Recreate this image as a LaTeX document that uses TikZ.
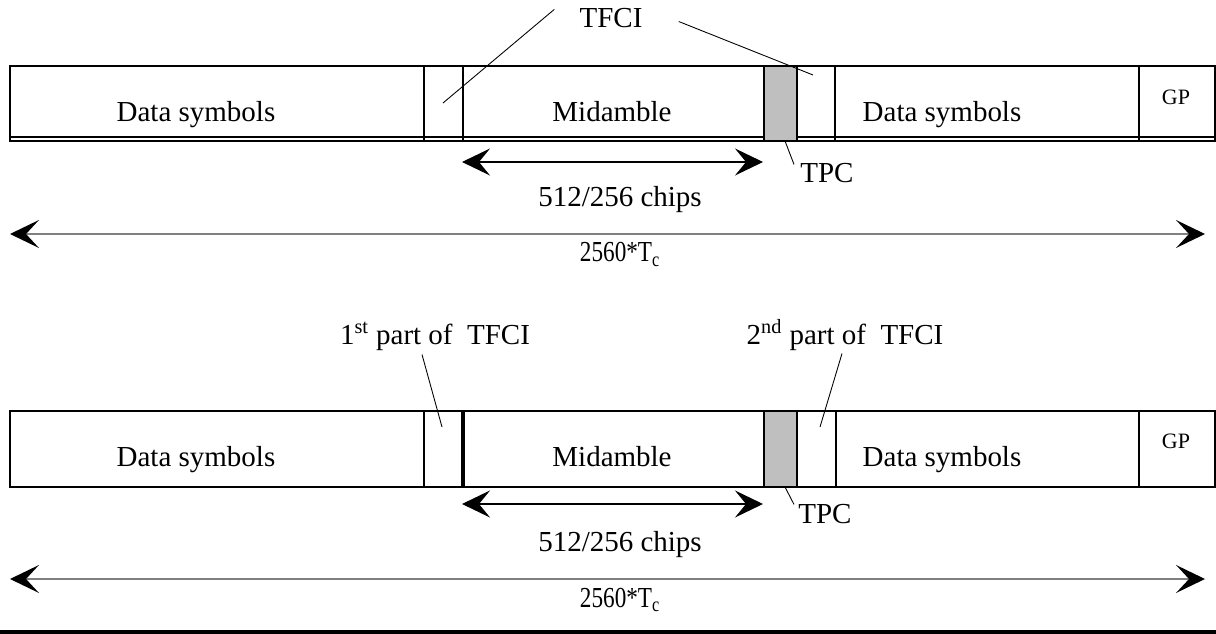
\documentclass[tikz,border=0pt]{standalone}
\usepackage{graphicx}
\usepackage{fontspec}
\setmainfont{Liberation Serif}
\usetikzlibrary{arrows.meta,calc}

\begin{document}
\begin{tikzpicture}[x=0.02cm,y=-0.02cm,
  lbl/.style={font=\fontsize{16.5}{20}\selectfont,inner sep=0pt,anchor=base},
  sml/.style={font=\fontsize{12.5}{15}\selectfont,inner sep=0pt,anchor=base},
  frame/.style={line width=0.6pt},
  lead/.style={line width=0.5pt},
  tpcbox/.style={fill=black!25,line width=1pt},
  span/.style={line width=0.6pt,{Stealth[length=0.56cm,width=0.54cm,inset=0.22cm]}-{Stealth[length=0.56cm,width=0.54cm,inset=0.22cm]}},
  total/.style={gray,line width=0.9pt,{Stealth[length=0.58cm,width=0.56cm,inset=0.26cm,color=black]}-{Stealth[length=0.58cm,width=0.56cm,inset=0.26cm,color=black]}}]
\useasboundingbox (0,0) rectangle (1216,634);

% upper burst
\draw[frame] (10,66) rectangle (1215,141);
\draw[line width=1.4pt] (10,137) -- (1215,137);
\foreach \x in {424,463,835,1139} \draw[frame] (\x,66) -- (\x,141);
\filldraw[tpcbox] (764,66) rectangle (797,141);
\node[lbl] (data1) at (196,122) {Data symbols};
\node[lbl] (mid1) at (612,122) {Midamble};
\node[lbl] (data2) at (942,122) {Data symbols};
\node[sml] (gp1) at (1176,105) {GP};
\node[lbl] (tfci) at (611,28) {TFCI};
\node[lbl,anchor=base west] (tpc1) at (800,183) {TPC};
\node[lbl] (chips1) at (620,207) {512/256 chips};
\node[lbl] (tc1) at (620,262) {\scalebox{0.8}[1]{2560*T\textsubscript{c}}};

\coordinate (tfciA) at (443,103);
\coordinate (tfciB) at (813,75);
\coordinate (tpcA) at (785,141);
\draw[lead] ($(tfci.north west)+(-25,1)$) -- (tfciA);
\draw[lead] ($(tfci.east)+(36,3)$) -- (tfciB);
\draw[lead] ($(tpc1.north west)+(-6,1)$) -- (tpcA);

\coordinate (m1a) at (462,162);
\coordinate (m1b) at (763,162);
\draw[span] (m1a) -- (m1b);
\coordinate (f1a) at (10,234);
\coordinate (f1b) at (1205,234);
\draw[total] (f1a) -- (f1b);

% lower burst
\draw[frame] (10,411) rectangle (1215,487);
\foreach \x in {424,462,464,836,1139} \draw[frame] (\x,411) -- (\x,487);
\filldraw[tpcbox] (764,411) rectangle (797,487);
\node[lbl] (data3) at (196,466) {Data symbols};
\node[lbl] (mid2) at (612,466) {Midamble};
\node[lbl] (data4) at (942,466) {Data symbols};
\node[sml] (gp2) at (1176,448) {GP};
\node[lbl] (part1) at (435,345) {1\textsuperscript{st} part of\ \ TFCI};
\node[lbl] (part2) at (845,345) {2\textsuperscript{nd} part of\ \ TFCI};
\node[lbl,anchor=base west] (tpc2) at (798,523) {TPC};
\node[lbl] (chips2) at (620,551) {512/256 chips};
\node[lbl] (tc2) at (620,607) {\scalebox{0.8}[1]{2560*T\textsubscript{c}}};

\coordinate (partA) at (442,427);
\coordinate (partB) at (820,427);
\coordinate (tpcB) at (785,487);
\draw[lead] ($(part1.south)+(-13,3)$) -- (partA);
\draw[lead] ($(part2.south)+(-3,2)$) -- (partB);
\draw[lead] ($(tpc2.north west)+(-4,1)$) -- (tpcB);

\coordinate (m2a) at (462,504);
\coordinate (m2b) at (763,504);
\draw[span] (m2a) -- (m2b);
\coordinate (f2a) at (10,579);
\coordinate (f2b) at (1205,579);
\draw[total] (f2a) -- (f2b);

\draw[line width=2pt] (0,632) -- (1216,632);
\end{tikzpicture}
\end{document}
